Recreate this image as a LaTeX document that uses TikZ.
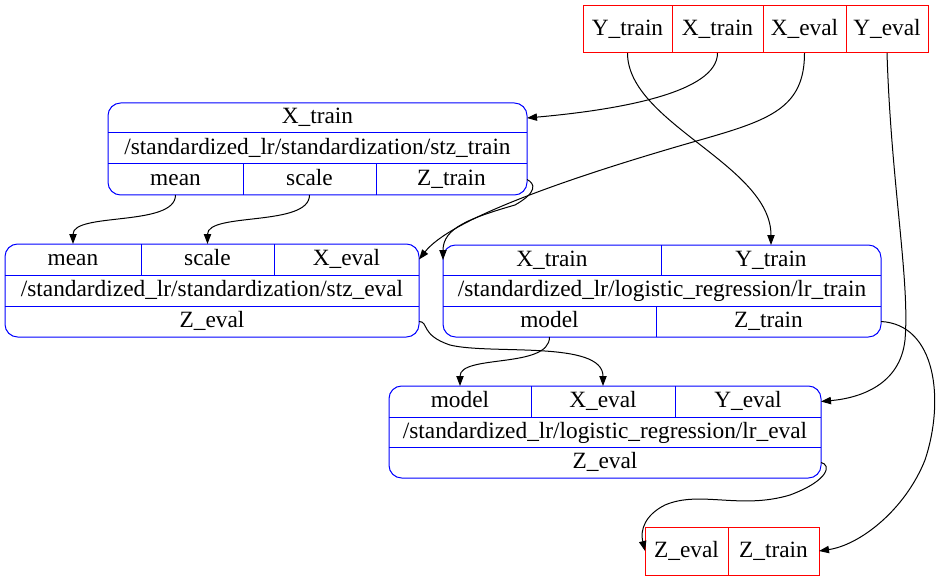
\documentclass[tikz,border=0pt]{standalone}
\usepackage{fontspec}
\setmainfont{Liberation Serif}
\usetikzlibrary{arrows.meta}

\begin{document}
\begin{tikzpicture}[
  x=0.75pt, y=-0.75pt,
  font=\fontsize{17.5}{20}\selectfont,
  >={Triangle[length=7.5pt,width=5.5pt]},
  cell/.style 2 args={inner sep=0pt, outer sep=0pt, text height=0.9em,
    text depth=0pt, minimum width=#1*0.75pt, minimum height=#2*0.75pt},
  iocell/.style 2 args={cell={#1}{#2}, draw=red, line width=0.75pt},
  recbox/.style={draw=blue, line width=0.75pt, rounded corners=9.5pt},
  recline/.style={draw=blue, line width=0.75pt},
  edge/.style={->, line width=0.75pt, black}
]
  \useasboundingbox (0,0) rectangle (942,581);

  % inputs
  \node[iocell={89}{47}] (in-ytrain) at (627.5,29.5) {Y\_train};
  \node[iocell={91}{47}] (in-xtrain) at (717.5,29.5) {X\_train};
  \node[iocell={83}{47}] (in-xeval) at (804.5,29.5) {X\_eval};
  \node[iocell={82}{47}] (in-yeval) at (887,29.5) {Y\_eval};

  % stz_train
  \node[cell={419}{30}] (st-xtrain) at (317.5,118) {X\_train};
  \node[cell={419}{31}] (st-name) at (317.5,148.5) {/standardized\_lr/standardization/stz\_train};
  \node[cell={135}{31}] (st-mean) at (175.5,179.5) {mean};
  \node[cell={133}{31}] (st-scale) at (309.5,179.5) {scale};
  \node[cell={151}{31}] (st-ztrain) at (451.5,179.5) {Z\_train};
  \draw[recbox] (st-xtrain.north west) rectangle (st-ztrain.south east);
  \draw[recline] (st-name.north west) -- (st-name.north east)
    (st-name.south west) -- (st-name.south east)
    (st-scale.north west) -- (st-scale.south west)
    (st-ztrain.north west) -- (st-ztrain.south west);

  % stz_eval
  \node[cell={136}{31}] (se-mean) at (73,259.5) {mean};
  \node[cell={133}{31}] (se-scale) at (207.5,259.5) {scale};
  \node[cell={145}{31}] (se-xeval) at (346.5,259.5) {X\_eval};
  \node[cell={414}{31}] (se-name) at (212,290.5) {/standardized\_lr/standardization/stz\_eval};
  \node[cell={414}{31}] (se-zeval) at (212,321.5) {Z\_eval};
  \draw[recbox] (se-mean.north west) rectangle (se-zeval.south east);
  \draw[recline] (se-name.north west) -- (se-name.north east)
    (se-name.south west) -- (se-name.south east)
    (se-scale.north west) -- (se-scale.south west)
    (se-xeval.north west) -- (se-xeval.south west);

  % lr_train
  \node[cell={218}{30}] (lt-xtrain) at (552,260) {X\_train};
  \node[cell={220}{30}] (lt-ytrain) at (771,260) {Y\_train};
  \node[cell={438}{31}] (lt-name) at (662,290.5) {/standardized\_lr/logistic\_regression/lr\_train};
  \node[cell={213}{31}] (lt-model) at (549.5,321.5) {model};
  \node[cell={225}{31}] (lt-ztrain) at (768.5,321.5) {Z\_train};
  \draw[recbox] (lt-xtrain.north west) rectangle (lt-ztrain.south east);
  \draw[recline] (lt-name.north west) -- (lt-name.north east)
    (lt-name.south west) -- (lt-name.south east)
    (lt-ytrain.north west) -- (lt-ytrain.south west)
    (lt-ztrain.north west) -- (lt-ztrain.south west);

  % lr_eval
  \node[cell={142}{31}] (le-model) at (460,401.5) {model};
  \node[cell={144}{31}] (le-xeval) at (603,401.5) {X\_eval};
  \node[cell={146}{31}] (le-yeval) at (748,401.5) {Y\_eval};
  \node[cell={432}{30}] (le-name) at (605,432) {/standardized\_lr/logistic\_regression/lr\_eval};
  \node[cell={432}{31}] (le-zeval) at (605,462.5) {Z\_eval};
  \draw[recbox] (le-model.north west) rectangle (le-zeval.south east);
  \draw[recline] (le-name.north west) -- (le-name.north east)
    (le-name.south west) -- (le-name.south east)
    (le-xeval.north west) -- (le-xeval.south west)
    (le-yeval.north west) -- (le-yeval.south west);

  % outputs
  \node[iocell={83}{48}] (out-zeval) at (686.5,551) {Z\_eval};
  \node[iocell={91}{48}] (out-ztrain) at (773.5,551) {Z\_train};

  % edges
  \draw[edge] (in-xtrain.south) .. controls +(0,40) and +(90,-8) .. (st-xtrain.east);
  \draw[edge] (in-ytrain.south) .. controls +(0,70) and +(0,-80) .. (lt-ytrain.north);
  \draw[edge] (in-xeval.south) .. controls +(0,55) and (770,120) .. (700,140)
    .. controls (560,180) and (450,220) .. (se-xeval.east);
  \draw[edge] (in-yeval.south) .. controls +(4,130) and (910,280) .. (905,340)
    .. controls (900,385) and (860,398) .. (le-yeval.east);
  \draw[edge] (st-mean.south) .. controls +(0,32) and +(0,-32) .. (se-mean.north);
  \draw[edge] (st-scale.south) .. controls +(0,32) and +(0,-32) .. (se-scale.north);
  \draw[edge] (st-ztrain.east) .. controls +(8,4) and (538,192) .. (515,205)
    .. controls (470,218) and (443,228) .. (lt-xtrain.west);
  \draw[edge] (se-zeval.east) .. controls +(10,0) and (420,335) .. (450,345)
    .. controls (490,355) and (603,340) .. (le-xeval.north);
  \draw[edge] (lt-model.south) .. controls +(0,32) and +(0,-32) .. (le-model.north);
  \draw[edge] (lt-ztrain.east) .. controls +(55,3) and (945,400) .. (925,460)
    .. controls (905,510) and (860,545) .. (out-ztrain.east);
  \draw[edge] (le-zeval.east) .. controls +(10,2) and (830,480) .. (790,495)
    .. controls (740,510) and (700,490) .. (665,505)
    .. controls (645,515) and (640,530) .. (out-zeval.west);
\end{tikzpicture}
\end{document}
